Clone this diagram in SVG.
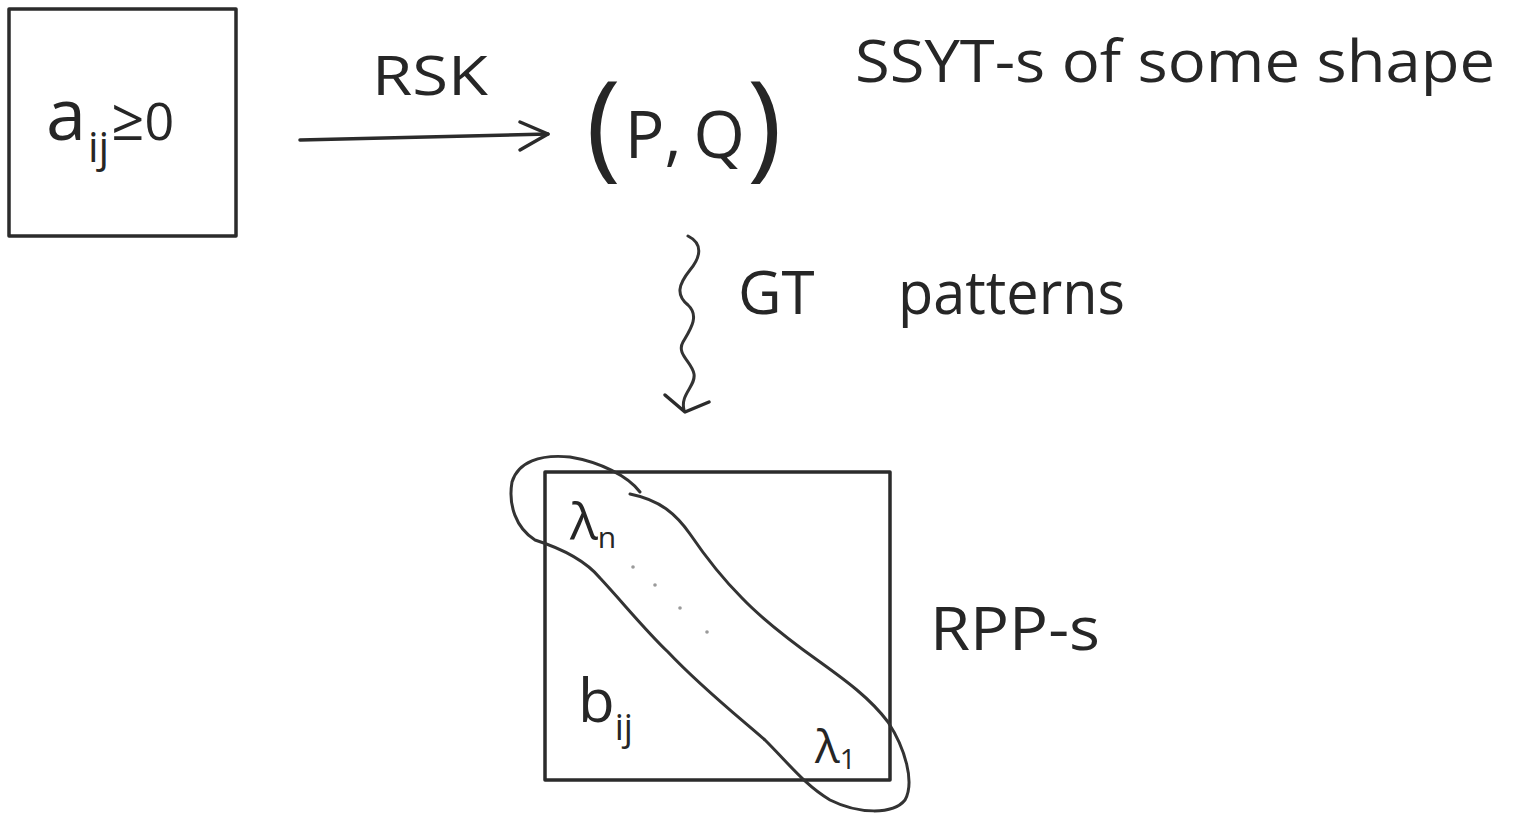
<svg xmlns="http://www.w3.org/2000/svg" width="1513" height="815" viewBox="0 0 1513 815">
<style>
.t{font-family:"Open Sans","Liberation Sans",sans-serif;fill:#262626;font-weight:400}
.ln{fill:none;stroke:#2b2b2b;stroke-width:3.5;stroke-linecap:round;stroke-linejoin:round}
.lt{fill:none;stroke:#333;stroke-width:3;stroke-linecap:round;stroke-linejoin:round}
</style>
<rect width="1513" height="815" fill="#fff"/>
<g id="node-a">
<rect class="ln" x="9" y="9" width="227" height="227"/>
<text class="t" x="46" y="140" font-size="72">a<tspan font-size="42" dy="22" dx="2">ij</tspan><tspan font-size="58" dy="-22" dx="2">≥</tspan><tspan font-size="52">0</tspan></text>
</g>
<g id="node-pq">
<text class="t" x="586" y="165" font-size="118" font-weight="300">(<tspan font-size="66" dy="-7" dx="4">P</tspan><tspan font-size="66">,</tspan><tspan font-size="66" dx="12">Q</tspan><tspan dy="7" dx="2">)</tspan></text>
</g>
<g id="label-ssyt">
<text class="t" x="855" y="82" font-size="58" textLength="640" lengthAdjust="spacingAndGlyphs">SSYT-s of some shape</text>
</g>
<g id="node-rpp">
<rect class="ln" x="545" y="472" width="345" height="308"/>
<text class="t" x="570" y="540" font-size="52">λ<tspan font-size="30" dy="8">n</tspan></text>
<text class="t" x="578" y="722" font-size="60">b<tspan font-size="36" dy="18">ij</tspan></text>
<text class="t" x="815" y="763" font-size="46">λ<tspan font-size="28" dy="6">1</tspan></text>
<g fill="#9a9a9a"><circle cx="633" cy="567" r="1.8"/><circle cx="655" cy="585" r="1.8"/><circle cx="680" cy="608" r="1.8"/><circle cx="707" cy="632" r="1.8"/></g>
<path class="lt" d="M640,492 C628,476 600,462 570,457 C540,454 518,462 512,482 C508,505 516,528 535,540 C560,548 585,560 600,578 C625,605 645,630 668,652 C700,686 735,714 765,740 C790,765 805,785 830,800 C858,814 893,815 905,800 C915,782 905,748 888,722 C870,698 845,680 820,662 C792,642 765,622 742,598 C722,578 705,556 690,534 C676,514 660,500 630,494"/>
<text class="t" x="930" y="650" font-size="60" textLength="170" lengthAdjust="spacingAndGlyphs">RPP-s</text>
</g>
<g id="connectors">
<path class="ln" d="M300,140 L548,134"/>
<path class="ln" d="M520,122 L548,134 L520,150"/>
<text class="t" x="372" y="95" font-size="54" textLength="116" lengthAdjust="spacingAndGlyphs">RSK</text>
<path class="lt" d="M688,236 C704,244 700,258 690,270 C678,285 676,295 688,305 C700,316 690,330 683,342 C676,354 692,362 694,374 C696,386 680,394 684,410"/>
<path class="ln" d="M665,395 L685,412 L709,402"/>
<text class="t" x="738" y="314" font-size="60">GT</text>
<text class="t" x="898" y="314" font-size="60" textLength="227" lengthAdjust="spacingAndGlyphs">patterns</text>
</g>
</svg>
